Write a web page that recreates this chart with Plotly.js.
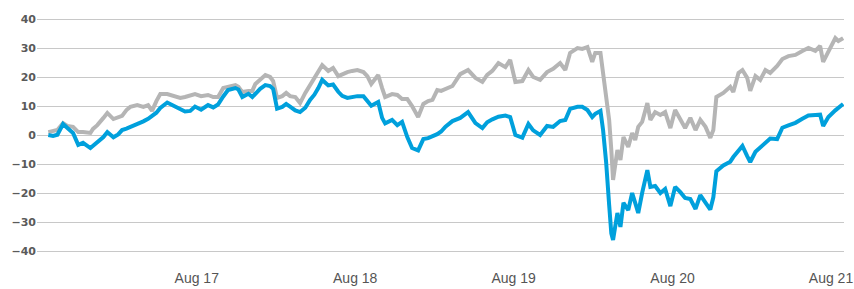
<!DOCTYPE html>
<html>
<head>
<meta charset="utf-8">
<script src="https://cdn.plot.ly/plotly-3.0.1.min.js"></script>
<style>html,body{margin:0;padding:0;background:#fff;}#chart{width:854px;height:289px;}</style>
</head>
<body>
<div id="chart"></div>
<script>
const dates = [
'2016-08-24','2016-09-04','2016-09-14','2016-09-27','2016-10-07','2016-10-20','2016-11-01','2016-11-12','2016-11-29','2016-12-05',
'2016-12-15','2016-12-29','2017-01-07','2017-01-21','2017-02-01','2017-02-10','2017-02-20','2017-03-01','2017-03-17','2017-03-31',
'2017-04-11','2017-04-20','2017-04-30','2017-05-09','2017-05-25','2017-06-12','2017-06-24','2017-07-05','2017-07-17','2017-07-28',
'2017-08-11','2017-08-27','2017-09-08','2017-09-19','2017-10-01','2017-10-12','2017-10-29','2017-11-05','2017-11-14','2017-11-28',
'2017-12-07','2017-12-14','2017-12-25','2018-01-06','2018-01-17','2018-01-24','2018-02-02','2018-02-14','2018-02-23','2018-03-04',
'2018-03-16','2018-03-27','2018-04-08','2018-04-19','2018-04-29','2018-05-08','2018-05-17','2018-05-31','2018-06-11','2018-06-23',
'2018-07-02','2018-07-14','2018-07-25','2018-08-06','2018-08-20','2018-08-29','2018-09-07','2018-09-23','2018-10-02','2018-10-09',
'2018-10-25','2018-11-06','2018-11-17','2018-11-29','2018-12-10','2018-12-24','2019-01-05','2019-01-16','2019-01-26','2019-02-06',
'2019-02-15','2019-02-25','2019-03-13','2019-03-31','2019-04-18','2019-05-05','2019-05-21','2019-06-01','2019-06-13','2019-06-27',
'2019-07-13','2019-07-24','2019-08-05','2019-08-21','2019-09-04','2019-09-15','2019-10-01','2019-10-17','2019-10-31','2019-11-16',
'2019-11-28','2019-12-09','2019-12-26','2020-01-06','2020-01-18','2020-01-29','2020-02-05','2020-02-17','2020-02-23','2020-03-01',
'2020-03-08','2020-03-13','2020-03-17','2020-03-27','2020-04-03','2020-04-10','2020-04-21','2020-04-30','2020-05-07','2020-05-14',
'2020-05-23','2020-06-04','2020-06-11','2020-06-22','2020-07-04','2020-07-15','2020-07-27','2020-08-07','2020-08-19','2020-08-30',
'2020-09-11','2020-09-23','2020-10-04','2020-10-16','2020-10-27','2020-11-03','2020-11-10','2020-11-26','2020-12-12','2020-12-19',
'2020-12-31','2021-01-09','2021-01-20','2021-01-27','2021-02-08','2021-02-19','2021-03-03','2021-03-14','2021-03-30','2021-04-11',
'2021-04-25','2021-05-11','2021-05-27','2021-06-10','2021-06-26','2021-07-07','2021-07-14','2021-07-26','2021-08-11','2021-08-18',
'2021-08-29'
];

const graySeries = [
1.0,1.4,1.7,4.1,3.1,2.8,1.0,1.0,0.7,2.1,
3.4,5.9,7.6,5.5,6.2,6.6,8.6,9.7,10.3,9.7,
10.3,8.3,11.7,14.1,14.1,13.1,12.8,13.1,13.8,14.1,
13.4,13.8,13.1,13.1,16.2,16.6,17.2,16.6,14.8,15.2,
15.2,17.6,19.0,20.7,20.0,18.6,12.8,13.4,14.5,13.4,
13.1,11.0,14.5,17.2,19.7,21.7,24.1,22.1,23.1,20.3,
21.0,21.7,22.1,22.4,21.7,20.3,17.6,20.7,16.2,13.1,
14.1,13.8,12.4,12.4,10.0,6.2,10.7,11.7,12.1,15.5,
15.2,15.9,16.9,21.0,22.4,19.7,18.3,20.7,22.1,24.8,
23.4,25.9,18.3,18.6,22.4,20.0,19.0,21.7,22.8,24.8,
22.4,28.3,30.0,29.7,30.3,25.2,28.3,28.3,20.7,13.8,
5.2,-5.2,-15.5,-5.2,-8.6,-0.7,-4.1,0.7,-1.7,2.8,
4.5,11.0,5.2,7.9,6.9,7.9,2.4,8.6,5.2,2.4,
5.9,1.7,5.2,2.8,-1.0,1.7,13.1,14.5,16.6,14.8,
21.4,22.4,19.7,15.2,20.3,19.0,22.4,21.4,23.8,26.2,
27.2,27.6,29.0,30.0,29.0,30.7,25.2,29.0,33.4,32.4,
33.4
];

const blueSeries = [
0,-0.3,0.1,3.8,2.4,0.7,-3.4,-2.7,-4.5,-3.7,
-2.7,-0.7,1.0,-0.8,0.2,1.7,2.2,2.7,3.8,4.7,
5.6,6.6,7.7,9.3,11.2,9.8,8.9,8.1,8.3,9.8,
8.7,10.3,9.5,10.5,13.3,15.5,16.2,15.7,13.1,14.2,
13.1,14.3,15.9,17.2,16.9,15.9,9.1,9.7,10.7,9.8,
8.5,7.9,9.4,12.1,13.9,16.2,19.0,17.1,17.4,14.9,
13.5,12.8,13.1,13.4,13.4,11.7,10.1,11.4,5.9,4.0,
5.2,3.4,4.5,-0.7,-4.5,-5.3,-1.4,-1.1,-0.6,0.3,
1.2,2.9,4.8,5.9,7.9,4.1,2.4,4.4,5.4,6.3,
6.7,6.2,0,-0.9,3.8,1.6,0,3.1,2.8,4.8,
5.2,9.0,9.7,9.7,8.6,6.2,7.3,8.3,1.7,-9.3,
-24.1,-33.9,-36.2,-26.9,-31.7,-23.4,-25.9,-20.0,-23.4,-26.9,
-20.0,-12.1,-17.9,-17.6,-20.0,-18.6,-24.5,-17.9,-19.7,-21.7,
-22.1,-25.5,-20.7,-23.4,-25.7,-21.5,-12.5,-10.5,-9.2,-7.6,
-5.2,-3.8,-7.3,-9.3,-5.8,-4.2,-2.6,-1.2,-1.4,2.5,
3.3,4.2,5.6,6.7,6.9,7.0,3.1,6.2,8.5,9.3,
10.7
];

const xTickVals = ['2017-08-01','2018-08-01','2019-08-01','2020-08-01','2021-08-01'];
const xTickText = ['Aug 17','Aug 18','Aug 19','Aug 20','Aug 21'];
const yTickVals = [-40,-30,-20,-10,0,10,20,30,40];

const traces = [
  {x: dates, y: graySeries, type: 'scatter', mode: 'lines',
   line: {color: '#b5b5b5', width: 4}, hoverinfo: 'skip'},
  {x: dates, y: blueSeries, type: 'scatter', mode: 'lines',
   line: {color: '#00a0dc', width: 4}, hoverinfo: 'skip'}
];

const layout = {
  width: 854, height: 289,
  margin: {l: 37, r: 10, t: 17, b: 36, pad: 0},
  paper_bgcolor: '#ffffff', plot_bgcolor: '#ffffff',
  showlegend: false,
  xaxis: {
    type: 'date',
    range: ['2016-07-29', '2021-08-31'],
    tickvals: xTickVals, ticktext: xTickText,
    showgrid: false, zeroline: false, showline: false, ticks: '',
    tickfont: {family: 'Liberation Sans, Arial, sans-serif', size: 14, color: '#555555'},
    ticklabelstandoff: 15,
    ticklabeloverflow: 'allow'
  },
  yaxis: {
    range: [-40.69, 40.69],
    tickvals: yTickVals,
    showgrid: true, gridcolor: '#c8c8c8', gridwidth: 1,
    zeroline: false, showline: false, ticks: '',
    tickfont: {family: 'DejaVu Sans, sans-serif', size: 11, color: '#5a5a5a', weight: 'bold'},
    ticklabelstandoff: 0
  }
};

Plotly.newPlot('chart', traces, layout, {staticPlot: true, displayModeBar: false});
</script>
</body>
</html>
